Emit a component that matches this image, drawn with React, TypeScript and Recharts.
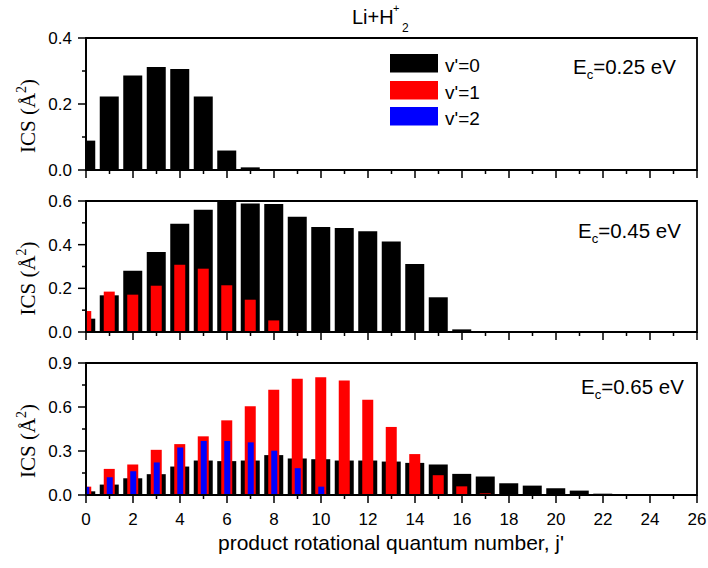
import React from 'react'
import { BarChart, Bar, XAxis, YAxis, ReferenceArea } from 'recharts'

// product rotational quantum number j'
const J = [0, 1, 2, 3, 4, 5, 6, 7, 8, 9, 10, 11, 12, 13, 14, 15, 16, 17, 18, 19, 20, 21, 22, 23, 24, 25, 26]

// Ec = 0.25 eV
const top_v0 = [0.089, 0.223, 0.286, 0.312, 0.306, 0.223, 0.059, 0.008, 0, 0, 0, 0, 0, 0, 0, 0, 0, 0, 0, 0, 0, 0, 0, 0, 0, 0, 0]

// Ec = 0.45 eV
const mid_v0 = [0.061, 0.168, 0.281, 0.366, 0.496, 0.56, 0.6, 0.588, 0.586, 0.528, 0.481, 0.476, 0.461, 0.414, 0.311, 0.159, 0.012, 0, 0, 0, 0, 0, 0, 0, 0, 0, 0]
const mid_v1 = [0.096, 0.185, 0.171, 0.212, 0.308, 0.29, 0.214, 0.148, 0.053, 0.005, 0, 0, 0, 0, 0, 0, 0, 0, 0, 0, 0, 0, 0, 0, 0, 0, 0]

// Ec = 0.65 eV
const bot_v0 = [0.025, 0.071, 0.114, 0.142, 0.194, 0.235, 0.231, 0.235, 0.272, 0.249, 0.244, 0.235, 0.235, 0.228, 0.219, 0.208, 0.144, 0.126, 0.08, 0.064, 0.046, 0.03, 0.009, 0.002, 0.001, 0, 0]
const bot_v1 = [0.057, 0.178, 0.208, 0.308, 0.347, 0.4, 0.509, 0.605, 0.717, 0.793, 0.802, 0.781, 0.649, 0.464, 0.279, 0.135, 0.059, 0.011, 0, 0, 0, 0, 0, 0, 0, 0, 0]
const bot_v2 = [0.055, 0.121, 0.162, 0.222, 0.324, 0.368, 0.368, 0.359, 0.302, 0.183, 0.057, 0.007, 0, 0, 0, 0, 0, 0, 0, 0, 0, 0, 0, 0, 0, 0, 0]

const topTicks = [0, 0.1, 0.2, 0.3, 0.4]
const midTicks = [0, 0.1, 0.2, 0.3, 0.4, 0.5, 0.6]
const botTicks = [0, 0.15, 0.3, 0.45, 0.6, 0.75, 0.9]

const SANS = 'Liberation Sans, Arial, sans-serif'
const SERIF = 'Liberation Serif, Times New Roman, serif'
const TW = 1.5 // tick thickness

const build = (v0: number[], v1?: number[], v2?: number[]) =>
    J.map((j, i) => ({ j, v0: v0[i], v1: v1 ? v1[i] : 0, v2: v2 ? v2[i] : 0 }))

// ticks are drawn as thin rects
const BottomTick = (p: any) => {
    const v = p.payload.value
    const major = v % 2 === 0
    return (
        <g>
            <rect x={p.x - TW / 2} y={p.y} width={TW} height={major ? 8 : 4} fill="#000" />
            {p.labels && major && (
                <text x={p.x} y={p.y + 30} textAnchor="middle" fontSize={17} fontFamily={SANS} fill="#000">{v}</text>
            )}
        </g>
    )
}

const TopTick = (p: any) => {
    const major = p.payload.value % 2 === 0
    return <rect x={p.x - TW / 2} y={p.y} width={TW} height={major ? 8 : 4} fill="#000" />
}

const LeftTick = (p: any) => {
    const major = p.index % 2 === 0
    const len = major ? 8 : 4
    return (
        <g>
            <rect x={p.x - len} y={p.y - TW / 2} width={len} height={TW} fill="#000" />
            {major && (
                <text x={p.x - 14} y={p.y + 6} textAnchor="end" fontSize={17} fontFamily={SANS} fill="#000">
                    {Number(p.payload.value).toFixed(1)}
                </text>
            )}
        </g>
    )
}

const RightTick = (p: any) => {
    const len = p.index % 2 === 0 ? 8 : 4
    return <rect x={p.x - len} y={p.y - TW / 2} width={len} height={TW} fill="#000" />
}

const YLabel = (props: any) => {
    const vb = props.viewBox
    const cy = vb.y + vb.height / 2 + 12
    return (
        <text transform={`translate(35,${cy}) rotate(-90)`} textAnchor="middle" fontSize={21} fontFamily={SERIF} fill="#000">
            ICS (Å<tspan dy={-9} fontSize={14}>2</tspan><tspan dy={9}>)</tspan>
        </text>
    )
}

const axisLine = { stroke: '#000', strokeWidth: 1.8 }

function Panel({ data, top, height, marginTop, axisHeight, yMax, yTicks, labels }: any) {
    return (
        <div style={{ position: 'absolute', left: 0, top, width: 708, height }}>
            <BarChart width={708} height={height} data={data} margin={{ top: marginTop, right: 11, bottom: 0, left: 0 }}>
                <XAxis xAxisId="k" dataKey="j" type="number" domain={[0, 26]} ticks={J} interval={0} allowDataOverflow
                    height={axisHeight} tickSize={0} tickMargin={0} tickLine={false} axisLine={axisLine}
                    tick={(p: any) => <BottomTick {...p} labels={labels} />} />
                <XAxis xAxisId="r" dataKey="j" type="number" domain={[0, 26]} allowDataOverflow hide height={0} />
                <XAxis xAxisId="b" dataKey="j" type="number" domain={[0, 26]} allowDataOverflow hide height={0} />
                <XAxis xAxisId="t" orientation="top" mirror dataKey="j" type="number" domain={[0, 26]} ticks={J} interval={0}
                    allowDataOverflow height={0} tickSize={0} tickMargin={0} tickLine={false} axisLine={axisLine}
                    tick={(p: any) => <TopTick {...p} />} />
                <YAxis yAxisId="l" type="number" domain={[0, yMax]} ticks={yTicks} interval={0} allowDataOverflow
                    width={86} tickSize={0} tickMargin={0} tickLine={false} axisLine={axisLine}
                    tick={(p: any) => <LeftTick {...p} />}
                    label={{ content: (lp: any) => <YLabel {...lp} /> }} />
                <YAxis yAxisId="rr" orientation="right" mirror type="number" domain={[0, yMax]} ticks={yTicks} interval={0}
                    allowDataOverflow width={0} tickSize={0} tickMargin={0} tickLine={false} axisLine={axisLine}
                    tick={(p: any) => <RightTick {...p} />} />
                <Bar xAxisId="k" yAxisId="l" dataKey="v0" fill="#000000" barSize={19} isAnimationActive={false} />
                <Bar xAxisId="r" yAxisId="l" dataKey="v1" fill="#ff0000" barSize={11} isAnimationActive={false} />
                <Bar xAxisId="b" yAxisId="l" dataKey="v2" fill="#0000ff" barSize={6} isAnimationActive={false} />
                <ReferenceArea xAxisId="k" yAxisId="l" x1={0} x2={26} y1={0} y2={yMax} fill="none" fillOpacity={0}
                    stroke="#000" strokeWidth={1.8} ifOverflow="visible" />
            </BarChart>
        </div>
    )
}

const Ec = ({ x, y, value }: any) => (
    <text x={x} y={y} fontSize={20.5} fontFamily={SANS} fill="#000">
        E<tspan dy={5} fontSize={13}>c</tspan><tspan dy={-5}>={value} eV</tspan>
    </text>
)

export default function App() {
    return (
        <div style={{ position: 'absolute', left: 0, top: 0, width: 708, height: 568, background: '#fff' }}>
            <Panel data={build(top_v0)} top={0} height={190} marginTop={38} axisHeight={20} yMax={0.4} yTicks={topTicks} labels={false} />
            <Panel data={build(mid_v0, mid_v1)} top={190} height={160} marginTop={11} axisHeight={18} yMax={0.6} yTicks={midTicks} labels={false} />
            <Panel data={build(bot_v0, bot_v1, bot_v2)} top={350} height={218} marginTop={13} axisHeight={73} yMax={0.9} yTicks={botTicks} labels={true} />
            <svg width={708} height={568} style={{ position: 'absolute', left: 0, top: 0, pointerEvents: 'none' }}>
                <text x={352} y={24} fontSize={20} fontFamily={SANS} fill="#000">
                    Li+H<tspan x={393} y={12} fontSize={11}>+</tspan><tspan x={402} y={32} fontSize={12}>2</tspan>
                </text>
                <rect x={390} y={54} width={48} height={18.5} fill="#000000" />
                <rect x={390} y={81} width={48} height={18.5} fill="#ff0000" />
                <rect x={390} y={107} width={48} height={18.5} fill="#0000ff" />
                <text x={445} y={72} fontSize={19} fontFamily={SANS} fill="#000">v'=0</text>
                <text x={445} y={99} fontSize={19} fontFamily={SANS} fill="#000">v'=1</text>
                <text x={445} y={125} fontSize={19} fontFamily={SANS} fill="#000">v'=2</text>
                <Ec x={573} y={74} value="0.25" />
                <Ec x={578} y={238} value="0.45" />
                <Ec x={581} y={394} value="0.65" />
                <text x={391} y={550} textAnchor="middle" fontSize={21} fontFamily={SANS} fill="#000">product rotational quantum number, j'</text>
            </svg>
        </div>
    )
}
